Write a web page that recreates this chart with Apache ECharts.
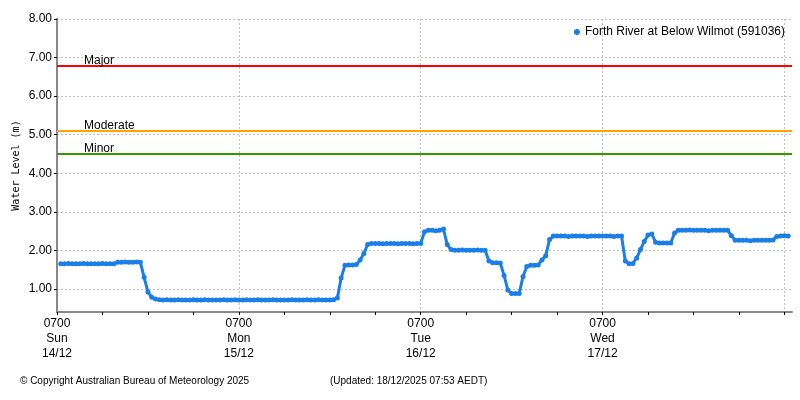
<!DOCTYPE html>
<html><head><meta charset="utf-8">
<script src="https://cdn.jsdelivr.net/npm/echarts@6/dist/echarts.min.js"></script>
<style>html,body{margin:0;padding:0;background:#fff}#c{width:800px;height:400px}</style>
</head><body><div id="c"></div>
<script>
// ---- data (hours measured from Sun 14/12 07:00) ----
const seriesName = 'Forth River at Below Wilmot (591036)';
const startHour = 0.5;
const stepHours = 0.5;
// water level (m), one value per half hour, 12 values (6 hours) per line
const levels = [
  1.65,1.65,1.66,1.65,1.65,1.65,1.66,1.65,1.65,1.65,1.65,1.66,
  1.65,1.65,1.65,1.69,1.69,1.70,1.69,1.69,1.70,1.69,1.30,0.92,
  0.78,0.74,0.72,0.71,0.72,0.71,0.71,0.72,0.71,0.71,0.71,0.72,
  0.71,0.71,0.72,0.71,0.71,0.71,0.71,0.72,0.71,0.71,0.72,0.71,
  0.71,0.72,0.71,0.71,0.72,0.71,0.71,0.71,0.72,0.71,0.71,0.71,
  0.71,0.72,0.71,0.71,0.71,0.72,0.71,0.71,0.72,0.71,0.71,0.71,
  0.72,0.76,1.28,1.61,1.62,1.62,1.63,1.75,1.92,2.15,2.18,2.18,
  2.18,2.17,2.18,2.18,2.18,2.17,2.18,2.18,2.18,2.17,2.18,2.18,
  2.48,2.52,2.52,2.51,2.52,2.55,2.15,2.02,2.00,2.00,2.01,2.00,
  2.00,2.00,2.01,2.00,2.00,1.72,1.68,1.68,1.67,1.35,0.97,0.88,
  0.88,0.88,1.32,1.58,1.61,1.61,1.62,1.75,1.86,2.28,2.37,2.37,
  2.37,2.37,2.36,2.37,2.37,2.37,2.37,2.36,2.37,2.37,2.37,2.37,
  2.37,2.37,2.36,2.37,2.37,1.72,1.65,1.66,1.80,2.02,2.23,2.40,
  2.42,2.21,2.19,2.19,2.19,2.19,2.45,2.52,2.52,2.52,2.53,2.52,
  2.52,2.52,2.52,2.51,2.52,2.52,2.52,2.52,2.52,2.38,2.26,2.26,
  2.26,2.26,2.25,2.26,2.26,2.26,2.26,2.26,2.27,2.36,2.37,2.38,
  2.37
];
const xMaxHour = 97;
const dayTickHours = [0, 24, 48, 72];
const dayTickLines = [0, 24, 48, 72, 96];
const dayLabels = ['0700\nSun\n14/12', '0700\nMon\n15/12', '0700\nTue\n16/12', '0700\nWed\n17/12'];
const minorTickHours = [6, 12, 18, 30, 36, 42, 54, 60, 66, 78, 84, 90];
const yMin = 0.4, yMax = 8;
const yTicks = [1, 2, 3, 4, 5, 6, 7, 8];
const thresholdNames = ['Major', 'Moderate', 'Minor'];
const thresholdValues = [6.8, 5.1, 4.5];
const copyrightText = '\u00A9 Copyright Australian Bureau of Meteorology 2025';
const updatedText = '(Updated: 18/12/2025 07:53 AEDT)';

// ---- chart ----
const thresholdColors = ['#ff0000', '#ffa500', '#339900'];
const FONT = '"Liberation Sans", Arial, sans-serif';
const seriesData = levels.map((v, i) => [startHour + i * stepHours, v]);
const chart = echarts.init(document.getElementById('c'), null, { renderer: 'canvas' });
const dashed = { color: '#c0c0c0', width: 1, type: [2, 2] };
chart.setOption({
  animation: false,
  backgroundColor: '#ffffff',
  textStyle: { fontFamily: FONT },
  title: [
    { text: copyrightText, left: 15, top: 371, textStyle: { fontSize: 10, fontWeight: 'normal', color: '#000', fontFamily: FONT } },
    { text: updatedText, left: 325, top: 371, textStyle: { fontSize: 10, fontWeight: 'normal', color: '#000', fontFamily: FONT } }
  ],
  legend: {
    data: [seriesName], right: 10, top: 21, icon: 'circle', itemWidth: 6, itemHeight: 6, itemGap: 5,
    textStyle: { fontSize: 12, color: '#000', fontFamily: FONT }
  },
  grid: { left: 57, right: 8, top: 19, bottom: 88 },
  xAxis: [
    {
      type: 'value', min: 0, max: xMaxHour, interval: 24, position: 'bottom',
      axisLine: { show: true, onZero: false, lineStyle: { color: '#888888', width: 2 } },
      axisTick: { show: true, customValues: dayTickLines, length: 3, lineStyle: { color: '#000' } },
      axisLabel: {
        customValues: dayTickHours, margin: 4, fontSize: 12, lineHeight: 15, color: '#000', fontFamily: FONT,
        formatter: v => { const i = dayTickHours.indexOf(v); return i >= 0 ? dayLabels[i] : ''; }
      },
      splitLine: { show: true, lineStyle: dashed }
    },
    {
      type: 'value', min: 0, max: xMaxHour, position: 'bottom',
      axisLine: { show: false },
      axisTick: { show: true, customValues: minorTickHours, length: 3, lineStyle: { color: '#000' } },
      axisLabel: { show: false },
      splitLine: { show: false }
    }
  ],
  yAxis: [
    {
      type: 'value', min: yMin, max: yMax, position: 'left',
      name: 'Water Level (m)', nameLocation: 'middle', nameRotate: 90, nameGap: 36, nameMoveOverlap: false,
      nameTextStyle: { fontFamily: '"DejaVu Sans Mono", monospace', fontSize: 10, color: '#000' },
      axisLine: { show: true, lineStyle: { color: '#888888', width: 2 } },
      axisTick: { show: true, customValues: yTicks, length: 3, lineStyle: { color: '#000' } },
      axisLabel: { customValues: yTicks, margin: 5, fontSize: 12, color: '#000', fontFamily: FONT, formatter: v => v.toFixed(2) },
      splitLine: { show: true, lineStyle: dashed }
    },
    {
      type: 'value', min: yMin, max: yMax, position: 'right',
      axisLine: { show: true, lineStyle: { color: '#888888', width: 2 } },
      axisTick: { show: false }, axisLabel: { show: false }, splitLine: { show: false }
    }
  ],
  series: [{
    name: seriesName, type: 'line', xAxisIndex: 0, yAxisIndex: 0,
    data: seriesData,
    symbol: 'circle', symbolSize: 5, showSymbol: true,
    itemStyle: { color: '#1a7ee8' },
    lineStyle: { color: '#1a7ee8', width: 3 },
    markLine: {
      silent: true, symbol: 'none', animation: false,
      data: thresholdNames.map((n, i) => ({
        name: n, yAxis: thresholdValues[i],
        lineStyle: { color: thresholdColors[i], width: 2, type: 'solid' },
        label: { show: true, formatter: '{b}', position: 'insideStartTop', distance: [27, -1], fontSize: 12, color: '#000', fontFamily: FONT }
      }))
    }
  }]
});
</script></body></html>
